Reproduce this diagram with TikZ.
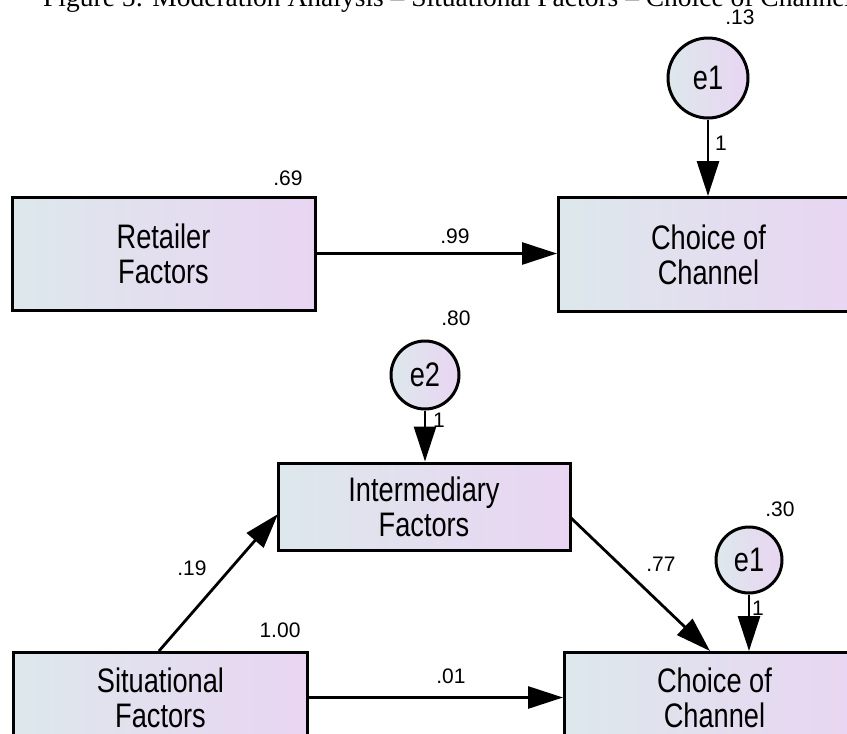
\documentclass[tikz,border=0pt]{standalone}
\usepackage{fontspec}
\setmainfont{Liberation Serif}
\newfontfamily\amosfont[FakeStretch=0.8]{Liberation Sans}
\newfontfamily\estfont{Liberation Sans}
\usetikzlibrary{arrows.meta}
\definecolor{fillL}{RGB}{221,232,236}
\definecolor{fillR}{RGB}{233,213,242}
\begin{document}
\begin{tikzpicture}[x=1pt,y=-1pt,
            var/.style={draw,line width=3pt,left color=fillL,right color=fillR,
              align=center,font=\amosfont\fontsize{34}{35}\selectfont},
            err/.style={circle,draw,line width=3pt,left color=fillL,right color=fillR,
              inner sep=0pt,font=\amosfont\fontsize{34}{35}\selectfont},
            path/.style={line width=2.8pt,-{Triangle[length=35pt,width=22pt]}},
            est/.style={font=\estfont\fontsize{21}{24}\selectfont}]
            \useasboundingbox (0,0) rectangle (847,734);
            \clip (0,0) rectangle (847,734);
            \node[anchor=base west,inner sep=0pt,font=\fontsize{27.5}{30}\selectfont] (title) at (43,6)
              {Figure 5: Moderation Analysis -- Situational Factors -- Choice of Channel};
            % upper model
            \node[var,minimum width=303pt,minimum height=113pt] (ret) at (163.5,253.5) {Retailer\\Factors};
            \node[var,minimum width=300pt,minimum height=114pt,anchor=north west] (chA) at (557,196) {Choice of\\Channel};
            \node[err,minimum size=80pt] (eA) at (708,78) {e1};
            \draw[path] (ret.east) -- (ret.east -| chA.west);
            \draw[path] (eA.south) -- (eA.south |- chA.north);
            \node[est] (vA) at (740,17) {.13};
            \node[est] (wA) at (721,143) {1};
            \node[est] (vR) at (288,178) {.69};
            \node[est] (bR) at (455,236) {.99};
            % lower model
            \node[var,minimum width=292pt,minimum height=87pt] (inter) at (424,506.5) {Intermediary\\Factors};
            \node[var,minimum width=294pt,minimum height=90pt,anchor=north west] (sit) at (12,651) {Situational\\Factors};
            \node[var,minimum width=300pt,minimum height=90pt,anchor=north west] (chB) at (563,651) {Choice of\\Channel};
            \node[err,minimum size=68pt] (eB) at (425,375) {e2};
            \node[err,minimum size=66pt] (eC) at (749,560) {e1};
            \coordinate (sitTop) at (159,651);
            \coordinate (interIn) at (278,514);
            \coordinate (interOut) at (570,517);
            \coordinate (chBIn) at (710,651);
            \draw[path] (eB.south) -- (eB.south |- inter.north);
            \draw[path] (eC.south) -- (eC.south |- chB.north);
            \draw[path] (sitTop) -- (interIn);
            \draw[path] (interOut) -- (chBIn);
            \draw[path] (sit.east) -- (sit.east -| chB.west);
            \node[est] (vB) at (456,318) {.80};
            \node[est] (wB) at (439,420) {1};
            \node[est] (vC) at (780,509) {.30};
            \node[est] (wC) at (758,608) {1};
            \node[est] (bS) at (192,568) {.19};
            \node[est] (bI) at (661,564) {.77};
            \node[est] (vS) at (280,630) {1.00};
            \node[est] (bD) at (451,676) {.01};
        \end{tikzpicture}
\end{document}
